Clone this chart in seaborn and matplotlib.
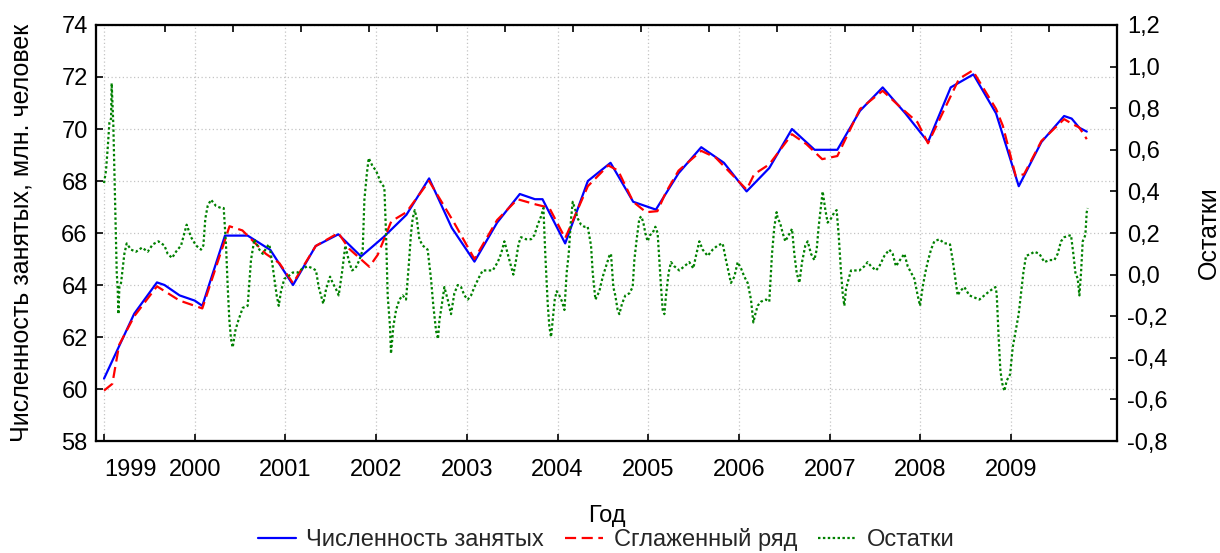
import numpy as np
import pandas as pd
import matplotlib
matplotlib.use("Agg")
import matplotlib.pyplot as plt
import matplotlib.transforms as mtransforms
from matplotlib.ticker import FuncFormatter
import seaborn as sns

# months counted from Jan 1999 (0 = Jan 1999)
emp_month = [0, 4, 7, 8, 10, 12, 13, 16, 19, 22, 25, 28, 29, 31, 34, 36, 37, 40, 43, 46,
             49, 52, 55, 57, 58, 61, 64, 67, 70, 73, 76, 79, 82, 85, 88, 91, 94, 97, 100,
             103, 106, 109, 112, 115, 118, 121, 124, 127, 128, 129, 130]
emp_value = [60.4, 62.9, 64.1, 64.0, 63.6, 63.4, 63.2, 65.9, 65.9, 65.35, 64.0, 65.5, 65.65,
             65.95, 65.1, 65.6, 65.85, 66.7, 68.1, 66.2, 64.9, 66.4, 67.5, 67.3, 67.3, 65.6,
             68.0, 68.7, 67.2, 66.9, 68.3, 69.3, 68.7, 67.6, 68.5, 70.0, 69.2, 69.2, 70.7,
             71.6, 70.6, 69.5, 71.6, 72.1, 70.6, 67.8, 69.5, 70.5, 70.4, 70.05, 69.9]

smooth_month = [0, 1.1, 2, 4, 7, 10, 13, 16.6, 18.3, 21.4, 23.2, 25, 28, 31, 32.4, 35.1,
                36.2, 38, 40, 43, 46.3, 49, 52, 54.7, 57.1, 58.9, 61, 64, 66.7, 68, 70,
                71.7, 73.2, 74.3, 76, 79, 80.9, 85, 86, 88, 91, 92.9, 95, 97, 100, 103,
                105.6, 107.6, 109, 113.1, 114.9, 118, 118.9, 120.6, 121.7, 124, 127,
                128.1, 129, 130]
smooth_value = [59.94, 60.2, 61.7, 62.8, 63.95, 63.4, 63.1, 66.26, 66.1, 65.2, 64.84, 64.07,
                65.5, 66.0, 65.4, 64.7, 65.16, 66.45, 66.8, 68.0, 66.4, 65.0, 66.5, 67.3,
                67.1, 66.97, 65.8, 67.8, 68.6, 68.4, 67.2, 66.8, 66.84, 67.55, 68.4, 69.16,
                68.9, 67.67, 68.26, 68.64, 69.8, 69.42, 68.84, 68.96, 70.77, 71.47, 70.77,
                70.26, 69.45, 71.93, 72.25, 70.77, 70.12, 68.19, 68.26, 69.54, 70.38, 70.19,
                70.06, 69.61]

resid_month = [0.0, 0.26, 0.49, 0.71, 0.93, 1.01, 1.23, 1.46, 1.68, 1.81, 1.9, 2.03, 2.25,
               2.47, 2.69, 3.0, 3.57, 4.23, 5.03, 5.78, 6.44, 7.19, 7.98, 8.42, 9.0, 9.52,
               10.19, 10.63, 10.93, 11.51, 12.17, 12.83, 13.14, 13.4, 13.71, 14.15, 14.81,
               15.48, 15.83, 16.14, 16.36, 16.58, 16.8, 17.02, 17.37, 17.68, 18.34, 19.0,
               19.44, 19.89, 20.55, 20.99, 21.69, 21.87, 22.31, 22.53, 22.84, 23.11, 23.41,
               23.85, 24.3, 24.96, 25.62, 26.28, 26.94, 27.6, 28.04, 28.4, 28.7, 29.0, 29.37,
               29.9, 30.25, 30.69, 31.04, 31.48, 31.92, 32.36, 32.8, 33.25, 33.78, 34.22,
               34.44, 34.75, 35.01, 35.54, 35.98, 36.64, 37.08, 37.3, 37.52, 37.83, 37.96,
               38.27, 38.63, 39.07, 39.51, 39.95, 40.3, 40.61, 40.83, 41.1, 41.36, 41.71,
               42.15, 42.81, 43.25, 43.56, 43.92, 44.18, 44.36, 44.58, 45.02, 45.46, 45.9,
               46.34, 46.79, 47.23, 47.67, 48.11, 48.55, 48.99, 49.65, 50.09, 50.75, 51.42,
               52.08, 52.52, 52.96, 53.4, 53.84, 54.15, 54.5, 54.85, 55.16, 55.82, 56.49,
               56.93, 57.37, 57.81, 58.12, 58.38, 58.69, 58.91, 59.13, 59.35, 59.62, 59.88,
               60.23, 60.59, 60.9, 61.2, 61.47, 61.78, 62.0, 62.35, 62.66, 63.1, 63.54,
               63.98, 64.42, 64.64, 65.0, 65.52, 65.97, 66.41, 66.67, 66.84, 67.06, 67.37,
               67.63, 67.94, 68.16, 68.52, 68.96, 69.49, 69.93, 70.15, 70.46, 70.81, 71.07,
               71.34, 71.6, 71.91, 72.22, 72.57, 72.93, 73.23, 73.45, 73.68, 73.9, 74.12,
               74.34, 74.69, 75.0, 75.44, 76.1, 76.76, 77.42, 77.95, 78.3, 78.75, 79.19,
               79.85, 80.51, 81.17, 81.83, 82.27, 82.63, 82.93, 83.38, 83.82, 84.26, 84.7,
               85.14, 85.58, 85.89, 86.15, 86.46, 86.9, 87.56, 88.0, 88.36, 88.67, 88.97,
               89.11, 89.42, 89.77, 90.12, 90.57, 91.01, 91.31, 91.62, 91.98, 92.33, 92.77,
               93.08, 93.52, 93.96, 94.27, 94.53, 94.84, 95.06, 95.42, 95.72, 96.17, 96.61,
               96.91, 97.18, 97.49, 97.71, 97.93, 98.15, 98.5, 98.81, 99.25, 99.91, 100.57,
               101.01, 101.46, 102.12, 102.56, 103.22, 103.88, 104.32, 104.76, 105.29,
               105.87, 106.31, 106.75, 107.19, 107.63, 107.94, 108.29, 108.64, 108.95,
               109.39, 109.83, 110.5, 111.16, 111.64, 111.91, 112.26, 112.61, 112.92,
               113.23, 113.8, 114.47, 115.13, 115.79, 116.45, 117.11, 117.91, 118.08,
               118.35, 118.57, 118.79, 119.1, 119.4, 119.85, 120.2, 120.55, 120.99, 121.3,
               121.61, 121.96, 122.62, 123.06, 123.73, 124.39, 125.05, 125.71, 126.15,
               126.59, 127.03, 127.91, 128.22, 128.49, 128.8, 129.02, 129.24, 129.46,
               129.81, 129.99, 130.12]
resid_value = [0.44, 0.5, 0.61, 0.73, 0.75, 0.92, 0.72, 0.36, 0.01, -0.07, -0.19, -0.06,
               -0.04, 0.03, 0.1, 0.15, 0.12, 0.11, 0.13, 0.11, 0.145, 0.16, 0.14, 0.1, 0.08,
               0.11, 0.14, 0.2, 0.24, 0.18, 0.14, 0.12, 0.14, 0.27, 0.33, 0.36, 0.33, 0.32,
               0.32, 0.14, -0.06, -0.22, -0.31, -0.35, -0.27, -0.23, -0.16, -0.15, 0.07,
               0.17, 0.12, 0.1, 0.14, 0.145, 0.04, -0.02, -0.1, -0.15, -0.08, -0.02, -0.01,
               0.01, 0.01, 0.03, 0.04, 0.03, 0.02, -0.06, -0.1, -0.14, -0.07, -0.01, -0.04,
               -0.07, -0.1, 0.01, 0.14, 0.07, 0.02, 0.03, 0.07, 0.12, 0.36, 0.48, 0.56, 0.52,
               0.5, 0.44, 0.42, 0.2, -0.1, -0.25, -0.38, -0.25, -0.17, -0.12, -0.1, -0.12,
               0.04, 0.2, 0.27, 0.31, 0.27, 0.17, 0.14, 0.12, -0.02, -0.15, -0.27, -0.31,
               -0.22, -0.17, -0.06, -0.12, -0.19, -0.09, -0.05, -0.06, -0.1, -0.12, -0.1,
               -0.06, -0.01, 0.02, 0.02, 0.02, 0.06, 0.1, 0.16, 0.1, 0.04, 0.0, 0.07, 0.15,
               0.18, 0.17, 0.17, 0.19, 0.24, 0.28, 0.32, 0.09, -0.14, -0.25, -0.3, -0.22,
               -0.12, -0.08, -0.1, -0.13, -0.17, 0.01, 0.1, 0.27, 0.35, 0.31, 0.27, 0.24,
               0.23, 0.23, 0.14, 0.01, -0.12, -0.08, -0.01, 0.04, 0.07, 0.09, 0.1, -0.06,
               -0.1, -0.17, -0.19, -0.14, -0.1, -0.09, -0.06, 0.07, 0.17, 0.27, 0.28, 0.25,
               0.2, 0.16, 0.19, 0.2, 0.23, 0.2, 0.07, -0.06, -0.17, -0.19, -0.1, 0.01, 0.06,
               0.04, 0.02, 0.04, 0.06, 0.03, 0.09, 0.16, 0.12, 0.09, 0.12, 0.14, 0.15, 0.07,
               0.01, -0.04, -0.01, 0.06, 0.03, -0.01, -0.04, -0.12, -0.23, -0.19, -0.15,
               -0.13, -0.12, -0.13, 0.1, 0.23, 0.3, 0.27, 0.25, 0.2, 0.16, 0.19, 0.22, 0.1,
               0.01, -0.04, 0.06, 0.14, 0.16, 0.1, 0.07, 0.12, 0.23, 0.33, 0.4, 0.31, 0.25,
               0.27, 0.3, 0.31, 0.19, 0.01, -0.09, -0.15, -0.07, -0.02, 0.02, 0.02, 0.02,
               0.04, 0.06, 0.04, 0.02, 0.04, 0.09, 0.12, 0.1, 0.04, 0.07, 0.1, 0.04, 0.01,
               -0.02, -0.1, -0.15, -0.06, 0.01, 0.06, 0.12, 0.16, 0.17, 0.15, 0.15, 0.145,
               0.07, -0.02, -0.1, -0.08, -0.06, -0.1, -0.11, -0.12, -0.1, -0.08, -0.06,
               -0.09, -0.31, -0.46, -0.52, -0.56, -0.51, -0.48, -0.35, -0.28, -0.19, -0.09,
               0.01, 0.09, 0.1, 0.11, 0.1, 0.06, 0.07, 0.07, 0.1, 0.16, 0.18, 0.19, 0.1,
               0.01, -0.02, -0.1, 0.01, 0.16, 0.19, 0.3, 0.32]

years = list(range(1999, 2010))
left_ticks = list(range(58, 76, 2))
right_ticks = [-0.8, -0.6, -0.4, -0.2, 0.0, 0.2, 0.4, 0.6, 0.8, 1.0, 1.2]

sns.set_theme(style="white")
plt.rcParams["font.family"] = ["Liberation Sans", "DejaVu Sans"]
plt.rcParams["axes.linewidth"] = 1.5

FS = 17
LFS = 18

fig = plt.figure(figsize=(12.2, 5.53), dpi=100)
ax = fig.add_axes([0.0787, 0.2025, 0.9156 - 0.0787, 0.9548 - 0.2025])
ax2 = ax.twinx()
ax_top = ax.twiny()

emp = pd.DataFrame({"month": emp_month, "value": emp_value})
smooth = pd.DataFrame({"month": smooth_month, "value": smooth_value})
resid = pd.DataFrame({"month": resid_month, "value": resid_value})

sns.lineplot(data=emp, x="month", y="value", ax=ax, color="#0000ff", lw=1.6,
             label="Численность занятых", legend=False)
sns.lineplot(data=smooth, x="month", y="value", ax=ax, color="#ff0000", lw=1.6,
             label="Сглаженный ряд", legend=False)
ax.lines[-1].set_dashes((5, 2.5))
sns.lineplot(data=resid, x="month", y="value", ax=ax2, color="#008000", lw=1.6,
             label="Остатки", legend=False)
ax2.lines[-1].set_dashes((1.1, 1.1))

xlim = (-1.06, 134.0)
ax.set_xlim(*xlim)
ax.set_ylim(58, 74)
ax2.set_ylim(-0.8, 1.2)

ax.set_xticks([12 * (y - 1999) for y in years])
ax.set_xticklabels([str(y) for y in years], fontsize=FS)
ax.set_yticks(left_ticks)
ax.set_yticklabels([str(v) for v in left_ticks], fontsize=FS)
ax2.set_yticks(right_ticks)
ax2.yaxis.set_major_formatter(FuncFormatter(lambda v, p: f"{v:.1f}".replace(".", ",")))

# first year label is shifted inside like in the original
first = ax.get_xticklabels()[0]
first.set_ha("left")
first.set_transform(first.get_transform() + mtransforms.ScaledTranslation(-6 / 72, 0, fig.dpi_scale_trans))

ax.tick_params(axis="both", direction="in", length=5, width=1.2, colors="black", labelsize=FS)
ax.tick_params(axis="x", pad=13, bottom=True)
ax.tick_params(axis="y", pad=6, left=True)
ax2.tick_params(axis="y", direction="in", length=5, width=1.2, pad=7, right=True,
                labelsize=FS, colors="black")

ax_top.set_xlim(*xlim)
ax_top.set_xticks(np.arange(8, 134, 9))
ax_top.set_xticklabels([])
ax_top.tick_params(axis="x", direction="in", length=5, width=1.2, top=True, colors="black")

ax.grid(True, color="#c4c4c4", linestyle=(0, (1, 2)), lw=0.9)
ax2.grid(False)
ax_top.grid(False)

for a in (ax, ax2, ax_top):
    for s in a.spines.values():
        s.set_color("black")
        s.set_linewidth(1.5)

ax.set_xlabel("Год", fontsize=FS, labelpad=17, color="black")
ax.set_ylabel("Численность занятых, млн. человек", fontsize=LFS, labelpad=20, color="black")
ax2.set_ylabel("Остатки", fontsize=LFS, labelpad=21, color="black")

handles = ax.lines[:2] + ax2.lines[:1]
labels = ["Численность занятых", "Сглаженный ряд", "Остатки"]
fig.legend(handles, labels, loc="lower center", bbox_to_anchor=(0.497, -0.014), ncol=3,
           frameon=False, fontsize=FS, handlelength=1.6, handletextpad=0.45,
           columnspacing=0.9, borderaxespad=0.0)

fig.savefig("out.png", dpi=100)
